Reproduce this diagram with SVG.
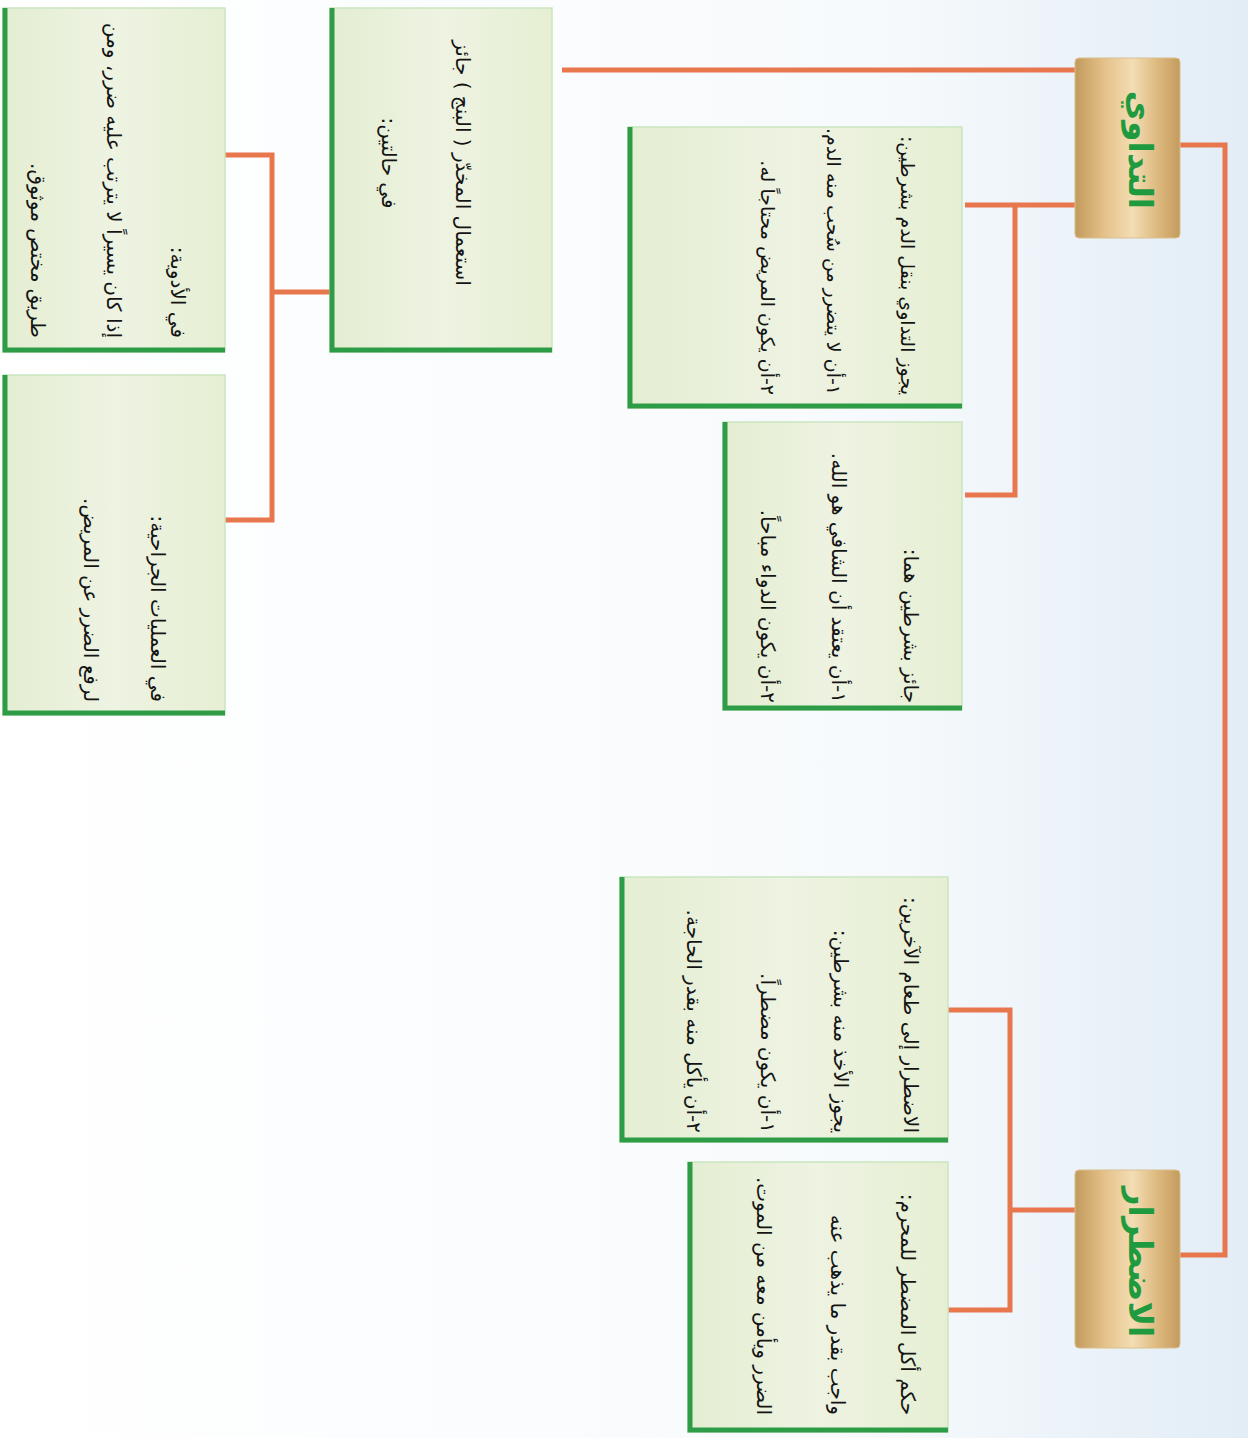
<svg xmlns="http://www.w3.org/2000/svg" width="1248" height="1438" viewBox="0 0 1248 1438">
<defs>
<linearGradient id="bg" x1="0" y1="0" x2="1" y2="0">
<stop offset="0" stop-color="#ffffff"/>
<stop offset="0.7" stop-color="#f7fafc"/>
<stop offset="1" stop-color="#e2edf6"/>
</linearGradient>
<linearGradient id="boxfill" x1="0" y1="0" x2="1" y2="0">
<stop offset="0" stop-color="#e4eed2"/>
<stop offset="0.5" stop-color="#eef3e2"/>
<stop offset="1" stop-color="#e6efd3"/>
</linearGradient>
<linearGradient id="gold" x1="0" y1="0" x2="1" y2="0">
<stop offset="0" stop-color="#c39a5c"/>
<stop offset="0.3" stop-color="#e6c48e"/>
<stop offset="0.55" stop-color="#f3ddb3"/>
<stop offset="0.8" stop-color="#dcb77c"/>
<stop offset="1" stop-color="#c49b5e"/>
</linearGradient>
<style>
.box{fill:url(#boxfill);stroke:#c9e6c0;stroke-width:1.5}
.edge{fill:none;stroke:#2e9b47;stroke-width:5}
.t{font-family:"DejaVu Sans",sans-serif;font-size:20px;fill:#141414;direction:rtl;text-anchor:start}
.s{font-size:19px}
.tc{text-anchor:middle}
.title{font-family:"DejaVu Sans",sans-serif;font-size:33px;font-weight:bold;fill:#1f9a3e;text-anchor:middle;direction:rtl}
.gold{fill:url(#gold);stroke:#d9bf8e;stroke-width:1}
.con{fill:none;stroke:#e8774e;stroke-width:5}
</style>
</defs>
<rect x="0" y="0" width="1248" height="1438" fill="url(#bg)"/>

<g id="connectors">
<path class="con" d="M562,70 H1075"/>
<path class="con" d="M1180,145 H1225 V1255 H1180"/>
<path class="con" d="M1075,205 H965 M1015,205 V495 H965"/>
<path class="con" d="M1075,1210 H1010 M948,1010 H1010 V1310 H948"/>
<path class="con" d="M330,292 H272 M225,155 H272 V520 H225"/>
</g>

<g id="node-tadawi">
<rect class="gold" x="1075" y="58" width="105" height="180" rx="4"/>
<text class="title" transform="translate(1129,150) rotate(90)">التداوي</text>
</g>

<g id="node-idtirar">
<rect class="gold" x="1075" y="1170" width="105" height="178" rx="4"/>
<text class="title" transform="translate(1129,1262) rotate(90)">الاضطرار</text>
</g>

<g id="box1">
<rect class="box" x="628" y="127" width="334" height="281"/>
<path class="edge" d="M630,127 V406 H962"/>
<text class="t s" transform="translate(901,395) rotate(90)">يجوز التداوي بنقل الدم بشرطين:</text>
<text class="t s" transform="translate(827,395) rotate(90)">١-أن لا يتضرر من سُحب منه الدم.</text>
<text class="t s" transform="translate(761,395) rotate(90)">٢-أن يكون المريض محتاجاً له.</text>
</g>

<g id="box2">
<rect class="box" x="723" y="422" width="239" height="288"/>
<path class="edge" d="M725,422 V708 H962"/>
<text class="t" transform="translate(904,703) rotate(90)">جائز بشرطين هما:</text>
<text class="t" transform="translate(832,703) rotate(90)">١-أن يعتقد أن الشافي هو الله.</text>
<text class="t" transform="translate(761,703) rotate(90)">٢-أن يكون الدواء مباحاً.</text>
</g>

<g id="box3">
<rect class="box" x="330" y="8" width="222" height="344"/>
<path class="edge" d="M332,8 V350 H552"/>
<text class="t tc" transform="translate(456,163) rotate(90)">استعمال المخدّر ( البنج ) جائز</text>
<text class="t tc" transform="translate(382,163) rotate(90)">في حالتين:</text>
</g>

<g id="box4">
<rect class="box" x="3" y="8" width="222" height="344"/>
<path class="edge" d="M5,8 V350 H225"/>
<text class="t" transform="translate(171,338) rotate(90)">في الأدوية:</text>
<text class="t" transform="translate(107,338) rotate(90)">إذا كان يسيراً لا يترتب عليه ضرر، ومن</text>
<text class="t" transform="translate(31,338) rotate(90)">طريق مختص موثوق.</text>
</g>

<g id="box5">
<rect class="box" x="3" y="375" width="222" height="340"/>
<path class="edge" d="M5,375 V713 H225"/>
<text class="t" transform="translate(151,702) rotate(90)">في العمليات الجراحية:</text>
<text class="t" transform="translate(84,702) rotate(90)">لرفع الضرر عن المريض.</text>
</g>

<g id="box6">
<rect class="box" x="620" y="877" width="328" height="265"/>
<path class="edge" d="M622,877 V1140 H948"/>
<text class="t" transform="translate(904,1133) rotate(90)">الاضطرار إلى طعام الآخرين:</text>
<text class="t" transform="translate(834,1133) rotate(90)">يجوز الأخذ منه بشرطين:</text>
<text class="t" transform="translate(761,1133) rotate(90)">١-أن يكون مضطراً.</text>
<text class="t" transform="translate(687,1133) rotate(90)">٢-أن يأكل منه بقدر الحاجة.</text>
</g>

<g id="box7">
<rect class="box" x="688" y="1162" width="260" height="270"/>
<path class="edge" d="M690,1162 V1430 H948"/>
<text class="t" transform="translate(901,1415) rotate(90)">حكم أكل المضطر للمحرم:</text>
<text class="t" transform="translate(831,1415) rotate(90)">واجب بقدر ما يذهب عنه</text>
<text class="t" transform="translate(757,1415) rotate(90)">الضرر ويأمن معه من الموت.</text>
</g>
</svg>
